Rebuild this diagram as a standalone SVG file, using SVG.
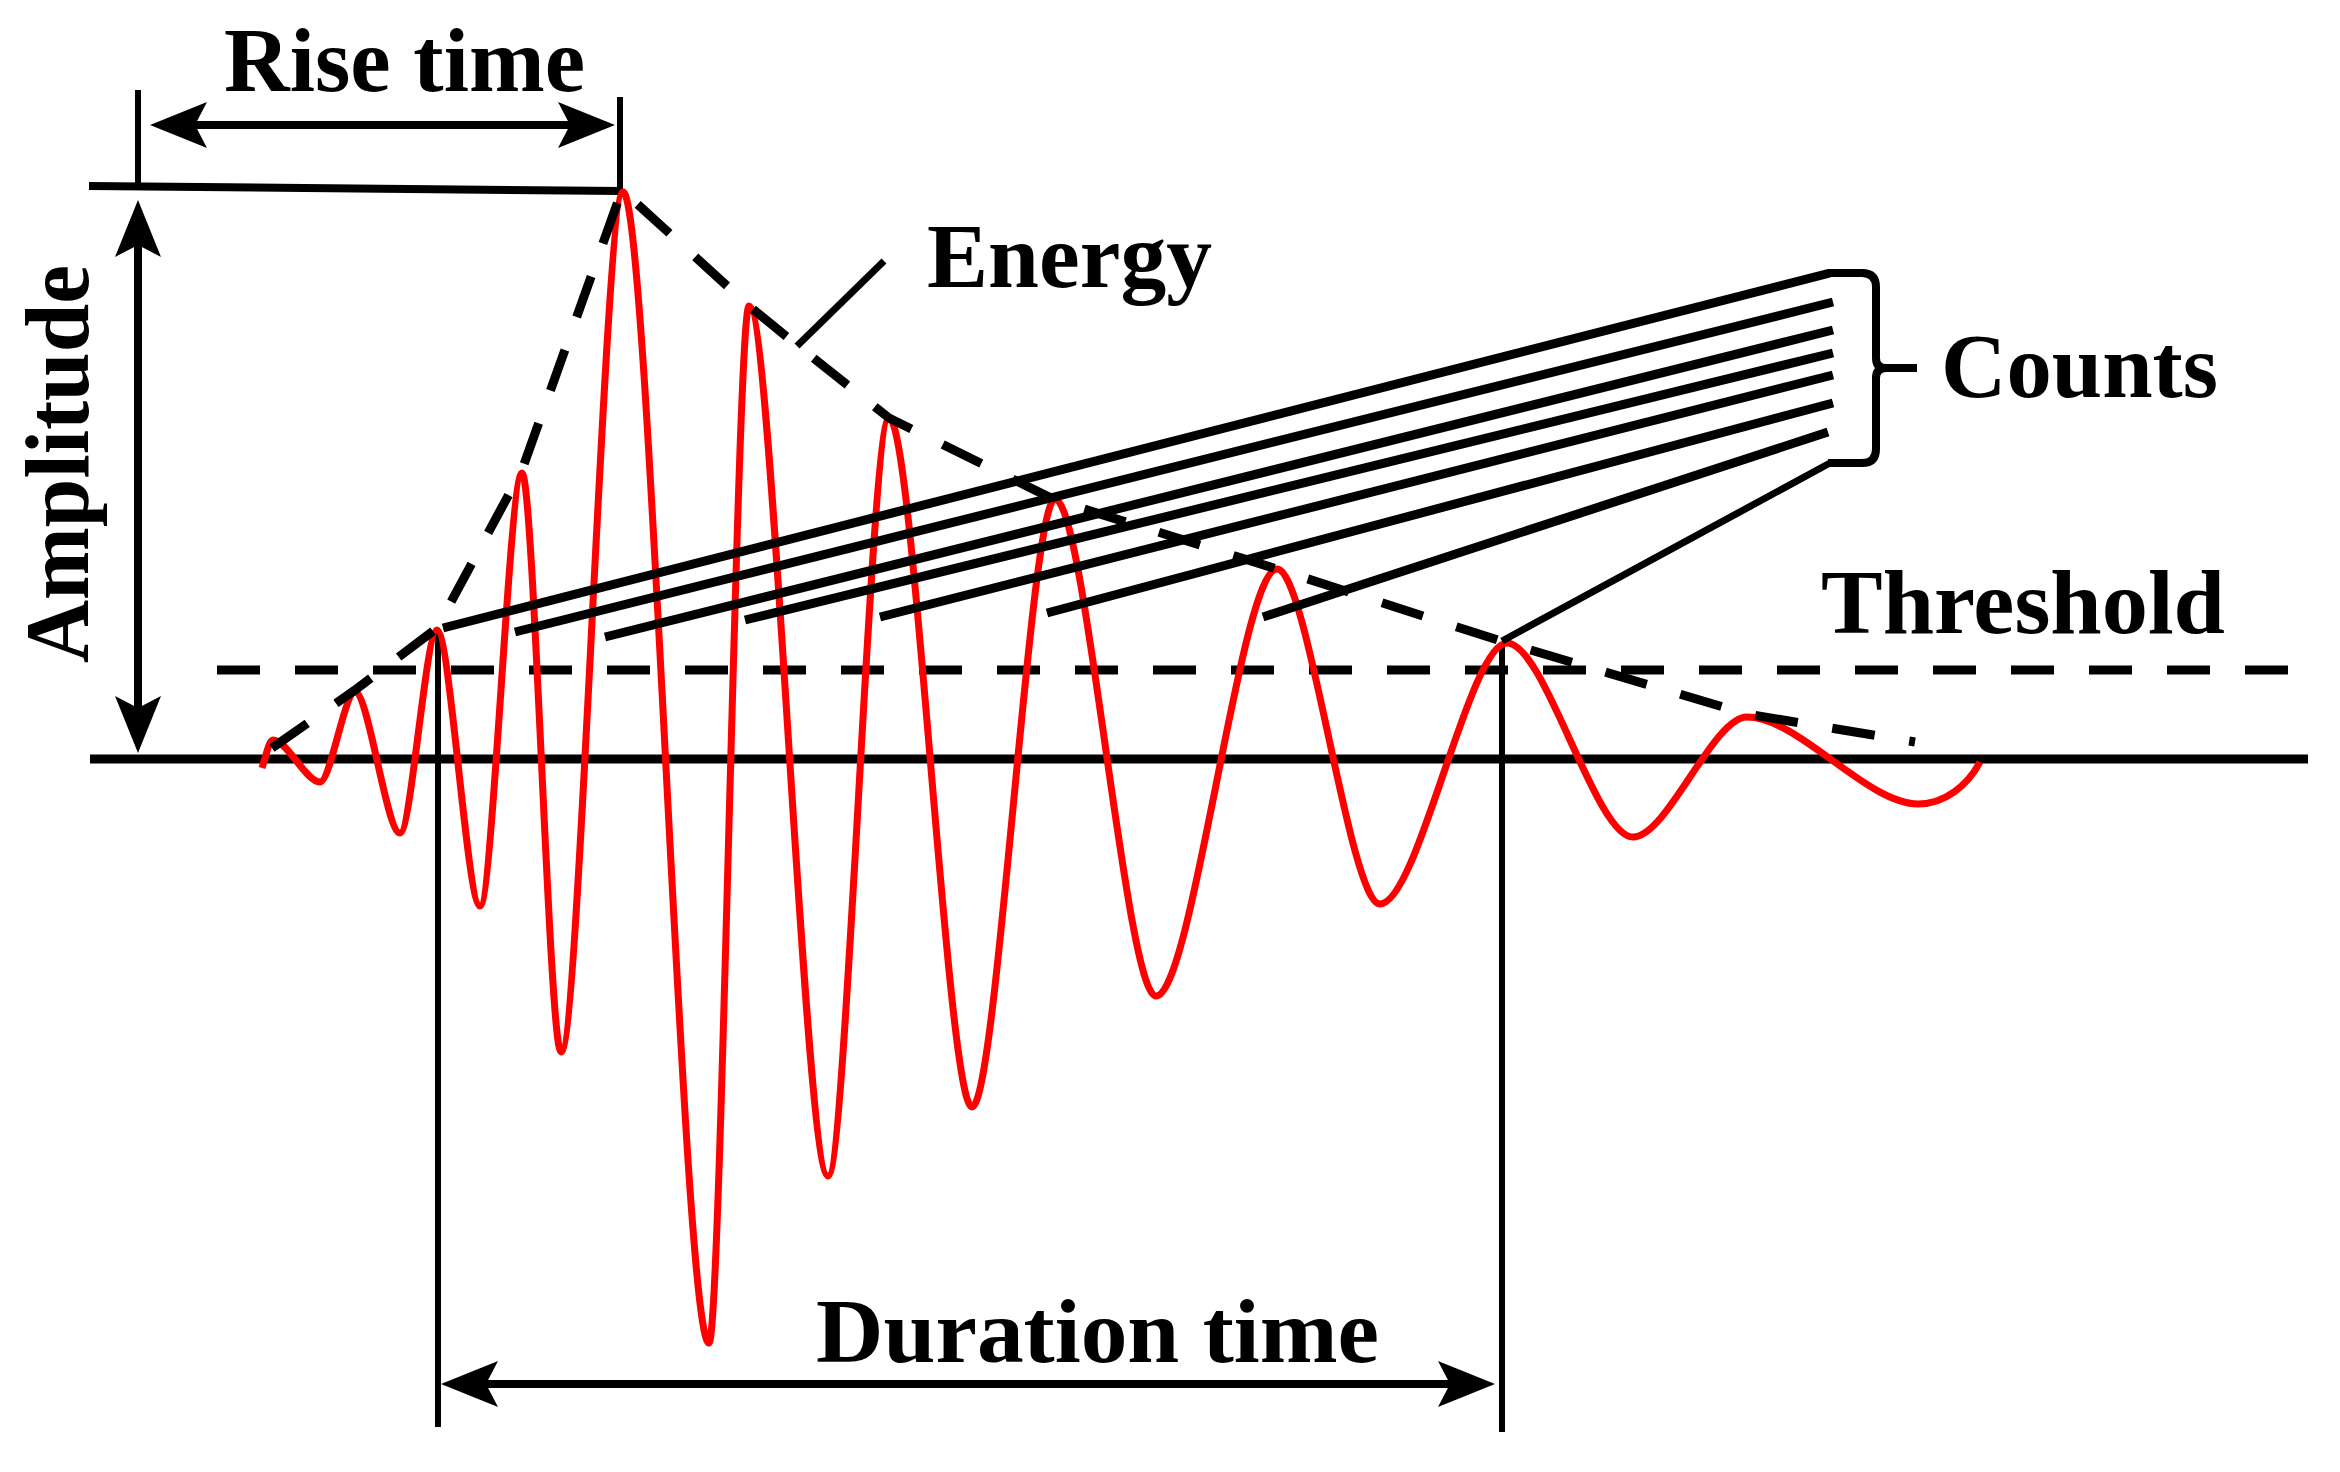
<svg xmlns="http://www.w3.org/2000/svg" width="2340" height="1472" viewBox="0 0 2340 1472">
<defs>
<style>
.ln{stroke:#000;fill:none;stroke-linecap:butt}
.dash{stroke:#000;fill:none;stroke-width:9;stroke-dasharray:43 35}
.lbl{font-family:"Liberation Serif","Times New Roman",serif;font-weight:bold;font-size:90px;fill:#000}
.wave{stroke:#ff0000;stroke-width:7;fill:none;stroke-linejoin:round}
</style>
<marker id="ah" markerUnits="userSpaceOnUse" markerWidth="64" markerHeight="52" viewBox="-60 -26 64 52" refX="-30" refY="0" orient="auto-start-reverse">
<path d="M0,0 L-57,-23 L-45,0 L-57,23 Z" fill="#000"/>
</marker>
</defs>
<rect width="2340" height="1472" fill="#fff"/>

<g id="axes">
<line class="ln" x1="90" y1="759" x2="2308" y2="759" stroke-width="9"/>
<line class="ln" x1="89" y1="186" x2="622" y2="191" stroke-width="8"/>
<line class="ln" x1="138" y1="90" x2="138" y2="190" stroke-width="6"/>
<line class="ln" x1="620" y1="97" x2="620" y2="192" stroke-width="6"/>
<line class="ln" x1="438" y1="630" x2="438" y2="1427" stroke-width="6"/>
<line class="ln" x1="1502" y1="643" x2="1502" y2="1432" stroke-width="6"/>
</g>

<g id="threshold">
<line class="dash" x1="217" y1="670" x2="2294" y2="670" stroke-width="10"/>
</g>

<g id="waveform">
<path class="wave" d="M262,768 C266,756 269,740 273,740 C287.1,740 305.9,782 320,782 C330.5,782 344.5,692 355,692 C368.5,692 386.5,833 400,833 C411.1,833 425.9,630 437,630 C449.9,630 467.1,906 480,906 C492.6,906 509.4,473 522,473 C533.7,473 549.3,1052 561,1052 C579.3,1052 604.7,192 623,192 C649.1,192 682.9,1343 709,1343 C721,1343 737,306 749,306 C772.7,306 804.3,1176 828,1176 C846.3,1176 870.7,418 889,418 C913.9,418 947.1,1107 972,1107 C996.9,1107 1030.1,499 1055,499 C1085.3,499 1125.7,996 1156,996 C1192.3,996 1240.7,569 1277,569 C1307.9,569 1349.1,904 1380,904 C1418.1,904 1468.9,643 1507,643 C1544.8,643 1595.2,837 1633,837 C1667.2,837 1712.8,717 1747,717 C1798.3,717 1866.7,804 1918,804 C1945,804 1968,785 1980,762"/>
</g>

<g id="energy-envelope">
<path class="dash" d="M272,748 L355,690 L437,628 L522,470 L622,190 L749,306 L797,345 L889,418 L1055,500 L1277,569 L1507,643 L1747,714 L1915,742"/>
<line class="ln" x1="884" y1="261" x2="797" y2="346" stroke-width="7"/>
</g>

<g id="counts">
<g class="ln" stroke-width="9">
<line x1="443" y1="628" x2="1830" y2="273"/>
<line x1="515" y1="632" x2="1833" y2="302"/>
<line x1="605" y1="637" x2="1833" y2="330"/>
<line x1="745" y1="620" x2="1833" y2="353"/>
<line x1="880" y1="617" x2="1833" y2="375"/>
<line x1="1047" y1="613" x2="1833" y2="403"/>
<line x1="1263" y1="617" x2="1828" y2="432"/>
</g>
<line class="ln" x1="1502" y1="641" x2="1830" y2="463" stroke-width="7"/>
<path class="ln" stroke-width="8" d="M1828,273 L1862,273 Q1876,273 1876,287 L1876,358 Q1876,368 1886,368 L1917,368 M1886,368 Q1876,368 1876,378 L1876,449 Q1876,463 1862,463 L1828,463"/>
</g>

<g id="dimension-arrows">
<line class="ln" x1="180" y1="125" x2="585" y2="125" stroke-width="8" marker-start="url(#ah)" marker-end="url(#ah)"/>
<line class="ln" x1="138" y1="230" x2="138" y2="723" stroke-width="8" marker-start="url(#ah)" marker-end="url(#ah)"/>
<line class="ln" x1="471" y1="1384" x2="1465" y2="1384" stroke-width="8" marker-start="url(#ah)" marker-end="url(#ah)"/>
</g>

<g id="labels">
<text class="lbl" x="224" y="91" textLength="361" lengthAdjust="spacingAndGlyphs">Rise time</text>
<text class="lbl" transform="translate(88,663) rotate(-90)" x="0" y="0" textLength="398" lengthAdjust="spacingAndGlyphs">Amplitude</text>
<text class="lbl" x="927" y="287" textLength="285" lengthAdjust="spacingAndGlyphs">Energy</text>
<text class="lbl" x="1941" y="397" textLength="277" lengthAdjust="spacingAndGlyphs">Counts</text>
<text class="lbl" x="1821" y="633" textLength="404" lengthAdjust="spacingAndGlyphs">Threshold</text>
<text class="lbl" x="816" y="1362" textLength="563" lengthAdjust="spacingAndGlyphs">Duration time</text>
</g>
</svg>
